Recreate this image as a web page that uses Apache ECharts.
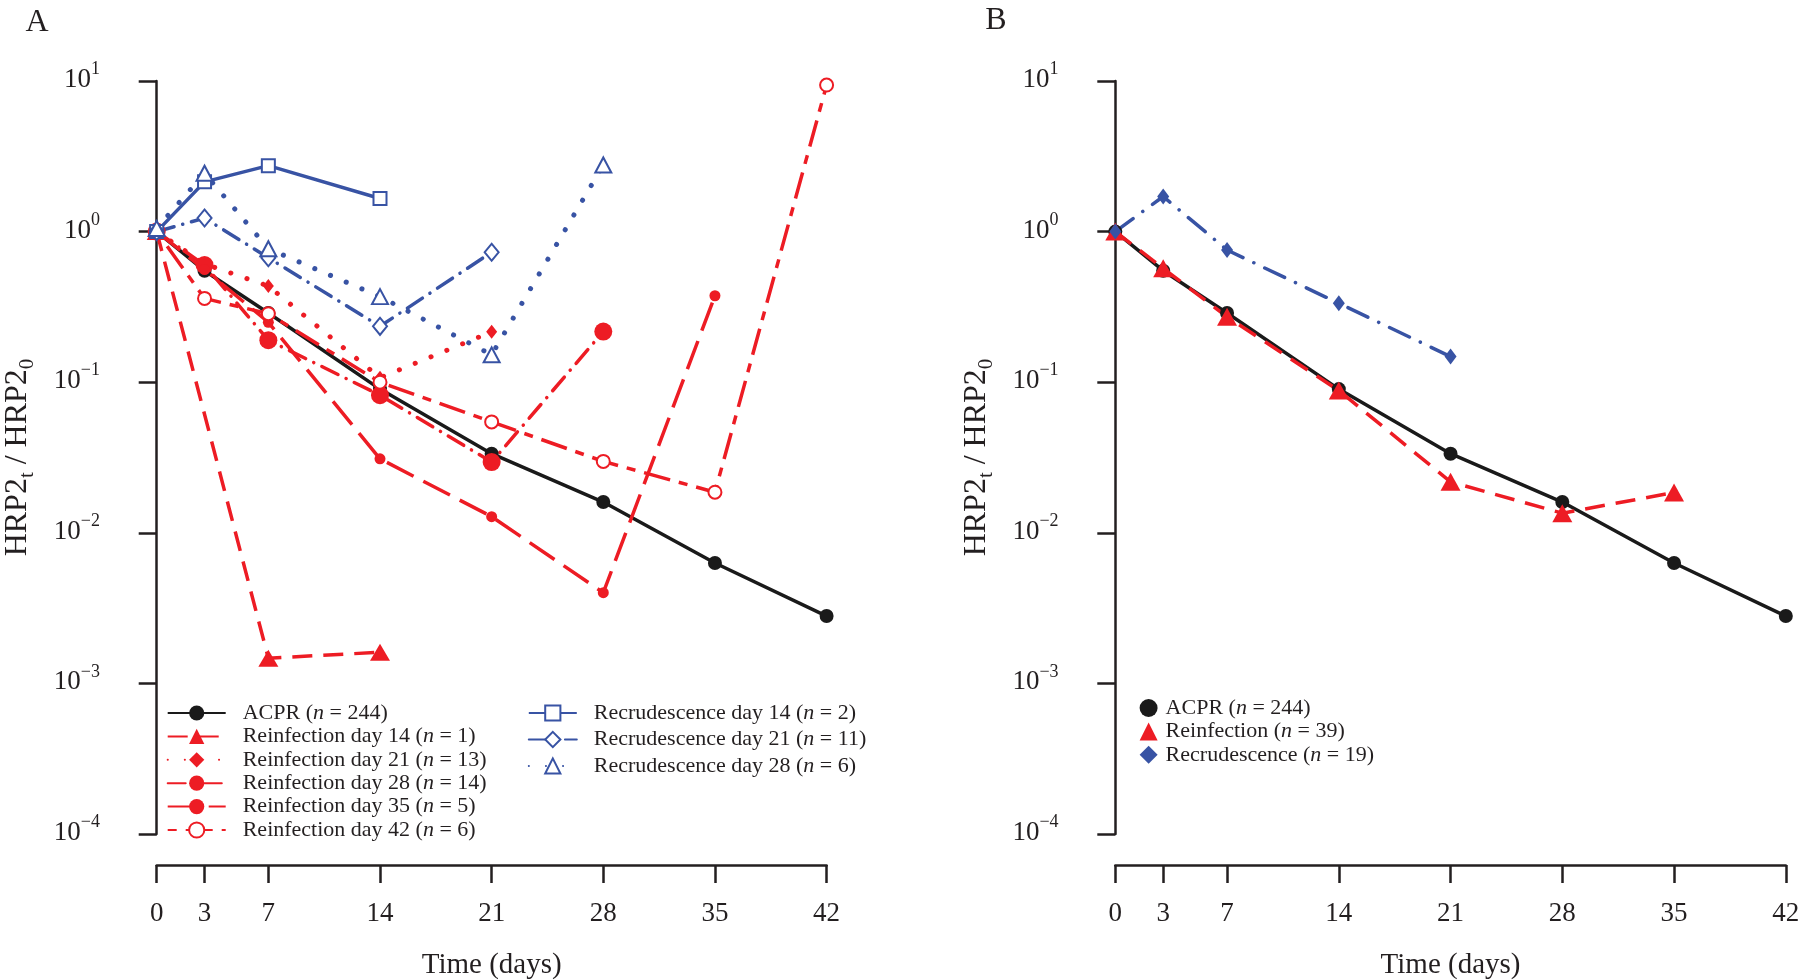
<!DOCTYPE html>
<html><head><meta charset="utf-8">
<script src="https://cdn.jsdelivr.net/npm/echarts@6/dist/echarts.min.js"></script>
<style>html,body{margin:0;padding:0;background:#fff}#c{width:1800px;height:980px}</style>
</head><body><div id="c"></div>
<script>
// ---- tick values ----
const dayTicks = [0, 3, 7, 14, 21, 28, 35, 42];

// ---- Panel A data (HRP2_t / HRP2_0) ----
const acprDays = [0, 3, 7, 14, 21, 28, 35, 42];
const acprVals = [1, 0.55, 0.288, 0.09, 0.0335, 0.016, 0.0063, 0.0028];
const reinf14Days = [0, 7, 14];
const reinf14Vals = [1, 0.00147, 0.00161];
const reinf21Days = [0, 3, 7, 14, 21];
const reinf21Vals = [1, 0.61, 0.435, 0.107, 0.216];
const reinf28Days = [0, 3, 7, 14, 21, 28];
const reinf28Vals = [1, 0.60, 0.19, 0.082, 0.0295, 0.217];
const reinf35Days = [0, 3, 7, 14, 21, 28, 35];
const reinf35Vals = [1, 0.56, 0.25, 0.031, 0.0128, 0.0040, 0.375];
const reinf42Days = [0, 3, 7, 14, 21, 28, 35, 42];
const reinf42Vals = [1, 0.36, 0.285, 0.10, 0.0545, 0.0298, 0.0186, 9.4];
const recr14Days = [0, 3, 7, 14];
const recr14Vals = [1, 2.14, 2.74, 1.66];
const recr21Days = [0, 3, 7, 14, 21];
const recr21Vals = [1, 1.23, 0.67, 0.235, 0.73];
const recr28Days = [0, 3, 7, 14, 21, 28];
const recr28Vals = [1.05, 2.44, 0.77, 0.37, 0.152, 2.77];

// ---- Panel B data ----
const reinfAllDays = [0, 3, 7, 14, 21, 28, 35];
const reinfAllVals = [1, 0.57, 0.272, 0.088, 0.0218, 0.0135, 0.0185];
const recrAllDays = [0, 3, 7, 14, 21];
const recrAllVals = [1, 1.71, 0.755, 0.334, 0.148];

// ---- names ----
const nACPR = 'ACPR (n = 244)';
const nR14 = 'Reinfection day 14 (n = 1)';
const nR21 = 'Reinfection day 21 (n = 13)';
const nR28 = 'Reinfection day 28 (n = 14)';
const nR35 = 'Reinfection day 35 (n = 5)';
const nR42 = 'Reinfection day 42 (n = 6)';
const nC14 = 'Recrudescence day 14 (n = 2)';
const nC21 = 'Recrudescence day 21 (n = 11)';
const nC28 = 'Recrudescence day 28 (n = 6)';
const nRAll = 'Reinfection (n = 39)';
const nCAll = 'Recrudescence (n = 19)';

const F = 'Liberation Serif';
const TXT = '#231f20';
const RED = '#ED1C24', BLUE = '#3853A4', BLACK = '#1a1a1a';

function mk(name, days, vals, gi, color, type, symbol, size, lw, cap) {
  const empty = symbol.indexOf('empty') === 0;
  return {
    type: 'line', name, xAxisIndex: gi, yAxisIndex: gi,
    data: days.map((d, i) => [d, vals[i]]),
    symbol, symbolSize: size, showSymbol: true,
    lineStyle: { color, width: lw || 3.5, type: type, cap: cap || 'butt' },
    itemStyle: { color, borderColor: color, borderWidth: empty ? 2.6 : 0 },
    emphasis: { disabled: true }, silent: true
  };
}

const DASHED = [20, 11];
const LONGDASH = [30, 11];
const DOTTED = [0.1, 17];
const TWODASH = [9, 9, 27, 9];

const series = [
  mk(nACPR, acprDays, acprVals, 0, BLACK, 'solid', 'circle', 14),
  mk(nR14, reinf14Days, reinf14Vals, 0, RED, DASHED, 'triangle', [20, 17]),
  mk(nR21, reinf21Days, reinf21Vals, 0, RED, DOTTED, 'diamond', [11, 14], 5, 'round'),
  mk(nR28, reinf28Days, reinf28Vals, 0, RED, [18, 9, 0.1, 9], 'circle', 18, 3.5, 'round'),
  mk(nR35, reinf35Days, reinf35Vals, 0, RED, LONGDASH, 'circle', 11),
  mk(nR42, reinf42Days, reinf42Vals, 0, RED, TWODASH, 'emptyCircle', 13),
  mk(nC14, recr14Days, recr14Vals, 0, BLUE, 'solid', 'emptyRect', 13),
  mk(nC21, recr21Days, recr21Vals, 0, BLUE, [18, 9, 0.1, 9], 'emptyDiamond', [14, 17], 3.5, 'round'),
  mk(nC28, recr28Days, recr28Vals, 0, BLUE, DOTTED, 'emptyTriangle', [16, 15], 5, 'round'),
  mk(nACPR, acprDays, acprVals, 1, BLACK, 'solid', 'circle', 14),
  mk(nRAll, reinfAllDays, reinfAllVals, 1, RED, DASHED, 'triangle', [20, 18]),
  mk(nCAll, recrAllDays, recrAllVals, 1, BLUE, [22, 12, 0.1, 12], 'diamond', [12, 16], 3.5, 'round')
];

const supMinus = s => String(s).replace('-', '\u2212');
function yLabel(v) {
  const e = Math.round(Math.log10(v));
  return '{b|10}{s|' + supMinus(e) + '}';
}

function xAxis(gi) {
  return {
    gridIndex: gi, type: 'value', min: 0, max: 42, offset: 31,
    axisLine: { show: true, lineStyle: { color: TXT, width: 2.5 } },
    axisTick: { show: true, length: 18, lineStyle: { color: TXT, width: 2.5 }, customValues: dayTicks },
    axisLabel: { customValues: dayTicks, margin: 35, fontSize: 27, fontFamily: F, color: TXT },
    splitLine: { show: false },
    name: 'Time (days)', nameLocation: 'middle', nameGap: 86,
    nameTextStyle: { fontSize: 29, fontFamily: F, color: TXT }
  };
}
function yAxis(gi) {
  return {
    gridIndex: gi, type: 'log', logBase: 10, min: 1e-4, max: 10, offset: 26.7,
    axisLine: { show: true, lineStyle: { color: TXT, width: 2.5 } },
    axisTick: { show: true, length: 18, lineStyle: { color: TXT, width: 2.5 } },
    axisLabel: {
      margin: 30, formatter: yLabel, padding: [0, 0, 8, 0],
      rich: {
        b: { fontSize: 27, fontFamily: F, color: TXT, lineHeight: 33, verticalAlign: 'bottom' },
        s: { fontSize: 18, fontFamily: F, color: TXT, lineHeight: 19, verticalAlign: 'top' }
      }
    },
    splitLine: { show: false },
    name: '{m|HRP2}{s|t}{m| / HRP2}{s|0}', nameLocation: 'middle', nameRotate: 90, nameGap: 92,
    nameTextStyle: {
      rich: {
        m: { fontSize: 32, fontFamily: F, color: TXT, lineHeight: 40 },
        s: { fontSize: 21, fontFamily: F, color: TXT, lineHeight: 21, verticalAlign: 'bottom' }
      }
    }
  };
}

const legText = {
  fontSize: 22, fontFamily: F, color: TXT, lineHeight: 22,
  rich: { i: { fontStyle: 'italic', fontSize: 22, fontFamily: F, color: TXT, lineHeight: 22 } }
};
const legFmt = name => name.replace('(n = ', '({i|n} = ');

const option = {
  animation: false,
  backgroundColor: '#ffffff',
  grid: [
    { left: 156.7, top: 81, width: 669.9, height: 753, outerBoundsMode: 'none' },
    { left: 1115.3, top: 81, width: 670.5, height: 753, outerBoundsMode: 'none' }
  ],
  xAxis: [xAxis(0), xAxis(1)],
  yAxis: [yAxis(0), yAxis(1)],
  legend: [
    {
      left: 166.7, top: 702, orient: 'vertical', padding: 0, itemGap: 1.4,
      itemWidth: 58, itemHeight: 19, selectedMode: false,
      data: [nACPR, nR14, nR21, nR28, nR35, nR42],
      formatter: legFmt, textStyle: Object.assign({ padding: [0, 0, 0, 12] }, legText)
    },
    {
      left: 527.8, top: 702, orient: 'vertical', padding: 0, itemGap: 4.5,
      itemWidth: 48, itemHeight: 19, selectedMode: false,
      data: [nC14, nC21, nC28],
      formatter: legFmt, textStyle: Object.assign({ padding: [0, 0, 0, 12] }, legText)
    },
    {
      left: 1139.6, top: 697, orient: 'vertical', padding: 0, itemGap: 1.4,
      itemWidth: 18, itemHeight: 18, selectedMode: false,
      data: [
        { name: nACPR, icon: 'circle' },
        { name: nRAll, icon: 'triangle' },
        { name: nCAll, icon: 'diamond' }
      ],
      formatter: legFmt, textStyle: Object.assign({ padding: [0, 0, 0, 3] }, legText)
    }
  ],
  graphic: [
    { type: 'text', x: 37, y: 23, style: { text: 'A', font: '32px "Liberation Serif"', fill: TXT, align: 'center', verticalAlign: 'middle' } },
    { type: 'text', x: 996, y: 21, style: { text: 'B', font: '32px "Liberation Serif"', fill: TXT, align: 'center', verticalAlign: 'middle' } }
  ],
  series
};

const chart = echarts.init(document.getElementById('c'), null, { renderer: 'canvas' });
chart.setOption(option);
</script>
</body></html>
